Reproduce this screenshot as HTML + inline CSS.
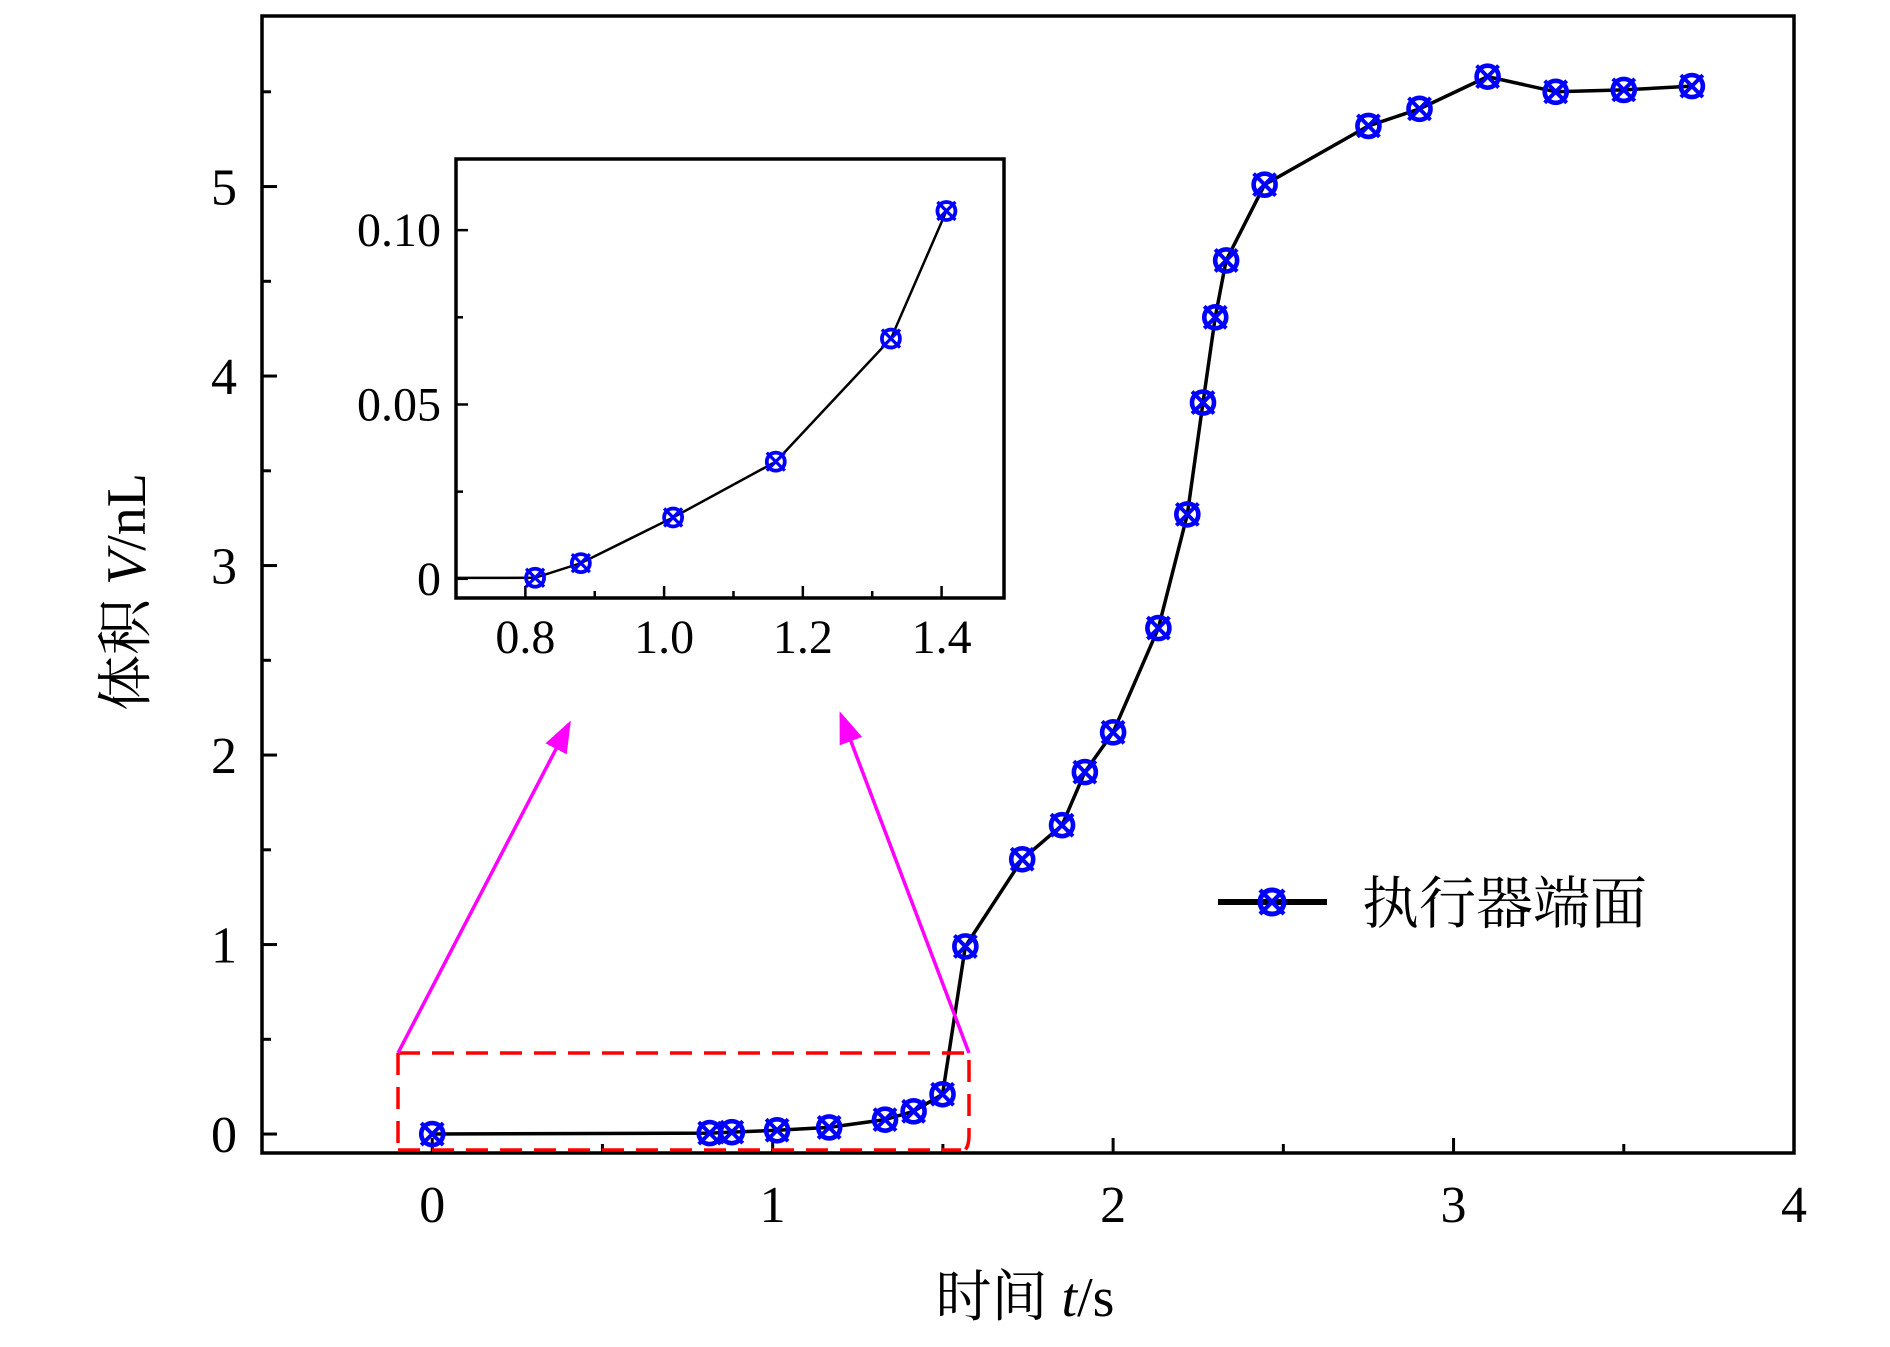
<!DOCTYPE html>
<html><head><meta charset="utf-8"><style>
html,body{margin:0;padding:0;background:#fff;}
svg{display:block;font-family:"Liberation Serif","Noto Serif CJK SC",serif;}
</style></head><body>
<svg id="c" width="1890" height="1347" viewBox="0 0 1890 1347" xmlns="http://www.w3.org/2000/svg">
<defs>
<clipPath id="mainClip"><rect x="262" y="16" width="1532" height="1137"/></clipPath>
<clipPath id="insetClip"><rect x="456" y="159" width="548" height="439"/></clipPath>
<marker id="ah" markerWidth="32" markerHeight="24" refX="28" refY="12" orient="auto" markerUnits="userSpaceOnUse" viewBox="0 0 32 24"><path d="M0,0 L32,12 L0,24 z" fill="#ff00ff"/></marker>
</defs>
<g id="root"></g>
</svg>
<script>
const times = [0,0.815,0.88,1.013,1.166,1.33,1.414,1.499,1.566,1.733,1.85,1.917,2.0,2.133,2.218,2.264,2.30,2.332,2.445,2.75,2.90,3.10,3.30,3.50,3.70];
const volumes = [0,0.005,0.01,0.02,0.035,0.076,0.12,0.21,0.99,1.45,1.63,1.91,2.12,2.67,3.27,3.86,4.31,4.61,5.01,5.32,5.41,5.58,5.50,5.51,5.53];
const insetTimes = [0,0.814,0.88,1.013,1.161,1.327,1.407];
const insetVolumes = [0,0.0003,0.0045,0.0176,0.0336,0.0689,0.1055];
const xTicks = [0,1,2,3,4];
const xMinor = [-0.5,0.5,1.5,2.5,3.5];
const yTicks = [0,1,2,3,4,5];
const yMinor = [0.5,1.5,2.5,3.5,4.5,5.5];
const insetXTicks = [0.8,1.0,1.2,1.4];
const insetXMinor = [0.9,1.1,1.3];
const insetYTicks = [0,0.05,0.10];
const insetYLabels = ["0","0.05","0.10"];
const insetYMinor = [0.025,0.075];

const NS="http://www.w3.org/2000/svg";
const root=document.getElementById('root');
function el(tag,attrs,parent){const e=document.createElementNS(NS,tag);for(const k in attrs)e.setAttribute(k,attrs[k]);(parent||root).appendChild(e);return e;}

const M={l:262,t:16,r:1794,b:1153,x0:-0.5,x1:4,y0:-0.1,y1:5.9};
const sx=v=>M.l+(v-M.x0)/(M.x1-M.x0)*(M.r-M.l);
const sy=v=>M.b-(v-M.y0)/(M.y1-M.y0)*(M.b-M.t);
const I={l:456,t:159,r:1004,b:598,x0:0.7,x1:1.49,y0:-0.0055,y1:0.1204};
const ix=v=>I.l+(v-I.x0)/(I.x1-I.x0)*(I.r-I.l);
const iy=v=>I.b-(v-I.y0)/(I.y1-I.y0)*(I.b-I.t);

function marker(cx,cy,r,parent,name){
  const g=el('g',{},parent);
  
  
  el('circle',{cx:cx,cy:cy,r:r,fill:'none',stroke:'#0000ff','stroke-width':r*0.42},g);
  const d=r*1.0;
  el('path',{d:`M${cx-d},${cy-d}L${cx+d},${cy+d}M${cx-d},${cy+d}L${cx+d},${cy-d}`,stroke:'#0000ff','stroke-width':r*0.36},g);
}

const frame=el('rect',{x:M.l,y:M.t,width:M.r-M.l,height:M.b-M.t,fill:'none',stroke:'#000','stroke-width':3.5});


xTicks.forEach(v=>{
  el('line',{x1:sx(v),x2:sx(v),y1:M.b,y2:M.b-15,stroke:'#000','stroke-width':3});
  const t=el('text',{x:sx(v),y:1222,'text-anchor':'middle','font-size':52});
  t.textContent=v;
  
  
});
xMinor.forEach(v=>el('line',{x1:sx(v),x2:sx(v),y1:M.b,y2:M.b-9,stroke:'#000','stroke-width':3}));
yTicks.forEach(v=>{
  el('line',{x1:M.l,x2:M.l+15,y1:sy(v),y2:sy(v),stroke:'#000','stroke-width':3});
  const t=el('text',{x:237,y:sy(v)+18,'text-anchor':'end','font-size':52});
  t.textContent=v;
  
  
});
yMinor.forEach(v=>el('line',{x1:M.l,x2:M.l+9,y1:sy(v),y2:sy(v),stroke:'#000','stroke-width':3}));

const xt=el('text',{x:1025,y:1316,'text-anchor':'middle','font-size':56});
xt.innerHTML='时间 <tspan font-style="italic">t</tspan>/s';


const yt=el('text',{x:0,y:0,'text-anchor':'middle','font-size':56,transform:'translate(145,592) rotate(-90)'});
yt.innerHTML='体积 <tspan font-style="italic">V</tspan>/nL';



const mg=el('g',{'clip-path':'url(#mainClip)'});


el('polyline',{points:times.map((t,i)=>sx(t)+','+sy(volumes[i])).join(' '),fill:'none',stroke:'#000','stroke-width':3.5},mg);
times.forEach((t,i)=>marker(sx(t),sy(volumes[i]),11,mg,'data-point'));

const zr=el('path',{d:'M398,1053 L969,1053 L969,1135 Q969,1150 961,1153 M398,1053 L398,1150 M398,1150 L961,1150',fill:'none',stroke:'#ff0000','stroke-width':3.5,'stroke-dasharray':'22,12'});


const a1=el('line',{x1:398,y1:1053,x2:569,y2:724,stroke:'#ff00ff','stroke-width':3.5,'marker-end':'url(#ah)'});


const a2=el('line',{x1:969,y1:1053,x2:841,y2:715,stroke:'#ff00ff','stroke-width':3.5,'marker-end':'url(#ah)'});



const ig=el('g',{});


el('rect',{x:I.l,y:I.t,width:I.r-I.l,height:I.b-I.t,fill:'#fff',stroke:'#000','stroke-width':3.5},ig);
insetXTicks.forEach(v=>{
  el('line',{x1:ix(v),x2:ix(v),y1:I.b,y2:I.b-12,stroke:'#000','stroke-width':2.5},ig);
  const t=el('text',{x:ix(v),y:653,'text-anchor':'middle','font-size':48},ig);
  t.textContent=v.toFixed(1);
  
  
});
insetXMinor.forEach(v=>el('line',{x1:ix(v),x2:ix(v),y1:I.b,y2:I.b-7,stroke:'#000','stroke-width':2.5},ig));
insetYTicks.forEach((v,i)=>{
  el('line',{x1:I.l,x2:I.l+12,y1:iy(v),y2:iy(v),stroke:'#000','stroke-width':2.5},ig);
  const t=el('text',{x:441,y:iy(v)+16,'text-anchor':'end','font-size':48},ig);
  t.textContent=insetYLabels[i];
  
  
});
insetYMinor.forEach(v=>el('line',{x1:I.l,x2:I.l+7,y1:iy(v),y2:iy(v),stroke:'#000','stroke-width':2.5},ig));
const ic=el('g',{'clip-path':'url(#insetClip)'},ig);
el('polyline',{points:insetTimes.map((t,i)=>ix(t)+','+iy(insetVolumes[i])).join(' '),fill:'none',stroke:'#000','stroke-width':2.5},ic);
insetTimes.forEach((t,i)=>{if(t>=I.x0)marker(ix(t),iy(insetVolumes[i]),9,ic,'inset-data-point');});

const lg=el('g',{});


el('line',{x1:1218,x2:1327,y1:902,y2:902,stroke:'#000','stroke-width':6},lg);
marker(1272,902,12,lg,'legend-marker');
const lt=el('text',{x:1362,y:923,'font-size':57},lg);
lt.textContent='执行器端面';


</script>
</body></html>
